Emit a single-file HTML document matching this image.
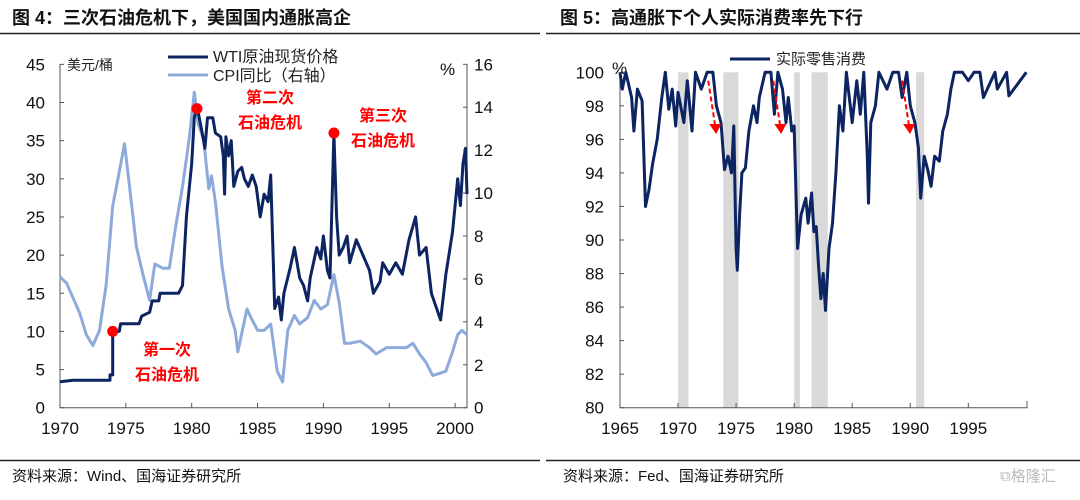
<!DOCTYPE html>
<html><head><meta charset="utf-8">
<style>
body{margin:0;background:#fff;width:1080px;height:495px;overflow:hidden;font-family:"Liberation Sans","Noto Sans CJK SC",sans-serif}
svg text{font-family:"Liberation Sans","Noto Sans CJK SC",sans-serif}
</style></head><body>
<svg id="s" width="1080" height="495" xmlns="http://www.w3.org/2000/svg">
<text x="12" y="24" font-size="18" font-weight="bold" fill="#111">图 4：三次石油危机下，美国国内通胀高企</text>
<text x="560" y="24" font-size="18" font-weight="bold" fill="#111">图 5：高通胀下个人实际消费率先下行</text>
<line x1="0" y1="33.5" x2="540" y2="33.5" stroke="#222" stroke-width="1.5"/>
<line x1="546" y1="33.5" x2="1080" y2="33.5" stroke="#222" stroke-width="1.5"/>
<line x1="0" y1="460.5" x2="540" y2="460.5" stroke="#222" stroke-width="1.5"/>
<line x1="546" y1="460.5" x2="1080" y2="460.5" stroke="#222" stroke-width="1.5"/>
<text x="12" y="481" font-size="15" fill="#111">资料来源：Wind、国海证券研究所</text>
<text x="563" y="481" font-size="15" fill="#111">资料来源：Fed、国海证券研究所</text>
<text x="1000" y="481" font-size="15" fill="#bbb">⧉格隆汇</text>
<g id="L"></g><g id="R"></g>
</svg>
<script>
// ---- Left chart data ----
const wtiYears=[1970,1971,1973.8,1973.8,1974.0,1974.0,1974.5,1974.6,1976,1976.2,1976.8,1977,1977.5,1977.6,1979,1979.3,1979.6,1980,1980.2,1980.4,1980.8,1981,1981.2,1981.6,1981.8,1982.2,1982.4,1982.5,1982.6,1982.8,1983,1983.2,1983.5,1983.8,1984,1984.3,1984.6,1984.9,1985.2,1985.5,1985.8,1986,1986.3,1986.6,1986.8,1987.0,1987.5,1987.8,1988.2,1988.5,1988.8,1989,1989.5,1989.8,1990,1990.3,1990.5,1990.8,1991,1991.2,1991.5,1991.8,1992,1992.5,1993,1993.5,1993.8,1994.3,1994.5,1995,1995.5,1996,1996.5,1997,1997.3,1997.8,1998.2,1998.5,1998.9,1999.3,1999.8,2000.2,2000.4,2000.6,2000.8,2000.9];
const wtiValues=[3.4,3.6,3.6,4.3,4.3,10,10,11,11,12,12.5,14,14,15,15,16,25,32,38,39.5,36,34,38,38,36,35.5,33,28,35.5,33,35,29,31,31.5,30,29,30.5,29,25,28,27,30.5,13,14.5,11.5,15,18.5,21,17,16,14,17,21,19.5,22.5,18,17,36,25,20,21,22.5,19,22,20,18,15,16.5,19,17.5,19,17.5,22,25,20,21,15,13.5,11.5,17.5,23,30,26.5,32,34,28];
const cpiYears=[1970,1970.5,1971,1971.5,1972,1972.5,1973,1973.5,1974,1974.5,1974.9,1975.3,1975.8,1976.3,1976.8,1977.2,1977.8,1978.3,1978.8,1979.3,1979.8,1980.2,1980.5,1980.9,1981.3,1981.5,1981.8,1982.3,1982.8,1983.3,1983.5,1984.2,1984.5,1985,1985.5,1986,1986.5,1986.9,1987.3,1987.8,1988.2,1988.8,1989.3,1989.8,1990.3,1990.8,1991.2,1991.6,1992,1992.8,1993.5,1994,1994.8,1995.5,1996.3,1996.8,1997.3,1997.8,1998.3,1998.8,1999.3,1999.8,2000.2,2000.5,2000.9];
const cpiValues=[6.1,5.8,5.1,4.4,3.4,2.9,3.6,5.7,9.4,11,12.3,10.2,7.5,6.2,5.0,6.7,6.5,6.5,8.5,10.3,12.5,14.7,13.2,12.5,10.2,10.8,9.6,6.6,4.6,3.6,2.6,4.6,4.2,3.6,3.6,3.9,1.7,1.2,3.6,4.3,3.9,4.2,5.0,4.6,4.8,6.2,4.9,3.0,3.0,3.1,2.8,2.5,2.8,2.8,2.8,3.0,2.5,2.1,1.5,1.6,1.7,2.6,3.4,3.6,3.4];
const leftTicks=[0,5,10,15,20,25,30,35,40,45];
const rightTicks=[0,2,4,6,8,10,12,14,16];
const xTicksL=[1970,1975,1980,1985,1990,1995,2000];
const crisisYears=[1974,1980.4,1990.8];
const crisisValues=[10,39.2,36];
const crisisLabels=[["第一次","石油危机"],["第二次","石油危机"],["第三次","石油危机"]];
// ---- Right chart data ----
const retailYears=[1965,1965.2,1965.5,1966.0,1966.2,1966.5,1966.9,1967.2,1967.5,1967.8,1968.2,1968.6,1968.9,1969.2,1969.5,1969.8,1970.0,1970.5,1970.8,1971.0,1971.2,1971.5,1972,1972.5,1973,1973.3,1973.7,1974.0,1974.3,1974.6,1974.8,1975.0,1975.1,1975.3,1975.5,1975.8,1976.1,1976.5,1976.8,1977.0,1977.5,1978.0,1978.3,1978.6,1979.0,1979.3,1979.5,1979.8,1980.0,1980.3,1980.6,1980.8,1981.0,1981.2,1981.5,1981.7,1981.9,1982.1,1982.3,1982.5,1982.7,1983.0,1983.3,1983.6,1983.9,1984.2,1984.5,1985.0,1985.4,1985.7,1986.0,1986.3,1986.4,1986.6,1987.0,1987.3,1988.0,1988.5,1989.0,1989.3,1989.7,1990.0,1990.4,1990.7,1990.9,1991.2,1991.5,1991.8,1992.1,1992.5,1992.8,1993.2,1993.5,1993.8,1994.5,1995,1995.5,1996,1996.3,1997.3,1997.5,1998.3,1998.5,2000];
const retailValues=[100,99,100,98.5,96.5,99,98.3,92,93,94.5,96,98.5,100,97.8,99,96.8,98.8,97,99.5,98,96.5,100,99,100,100,98,97,94.2,95,94,96.8,89.5,88.2,91.5,94,94.3,96.5,98,97,98.5,100,100,97.5,100,99,97,98.5,96.5,96.8,89.5,91.5,92,92.5,91,92.8,90.5,90.8,88.5,86.5,88,85.8,89.5,91,94,98,96.5,100,97,99.5,97.5,100,95,92.2,97,98,100,99,100,100,98.5,100,98,97,95.5,92.5,95,94.2,93.2,95,94.7,96.5,97.5,99,100,100,99.5,100,100,98.5,100,99,100,98.6,100];
const recessionStart=[1970.0,1973.9,1980.0,1981.5,1990.5];
const recessionEnd=[1970.9,1975.2,1980.5,1982.9,1991.2];
const arrowYears=[1972.6,1978.2,1989.3];
const yTicksR=[80,82,84,86,88,90,92,94,96,98,100];
const xTicksR=[1965,1970,1975,1980,1985,1990,1995];

const NS="http://www.w3.org/2000/svg";
function mk(parent,tag,attrs,txt){const e=document.createElementNS(NS,tag);for(const k in attrs)e.setAttribute(k,attrs[k]);if(txt!==undefined)e.textContent=txt;parent.appendChild(e);return e;}
const L=document.getElementById('L'),R=document.getElementById('R');
// Left axes
const xL=y=>60+(y-1970)*13.17;
const yL=v=>407.7-v*7.63;
const yL2=v=>407.7-v*(343.4/16);
let e;
e=mk(L,'path',{d:`M${xL(1970)},64 V407.7 H467 V64`,fill:'none',stroke:'#555','stroke-width':1});


leftTicks.forEach(v=>{
 e=mk(L,'line',{x1:60,x2:64,y1:yL(v),y2:yL(v),stroke:'#555'});
 
 
 e=mk(L,'text',{x:45,y:yL(v)+6,'font-size':17,'text-anchor':'end',fill:'#111'},v);
 
 
});
rightTicks.forEach(v=>{
 e=mk(L,'line',{x1:463,x2:467,y1:yL2(v),y2:yL2(v),stroke:'#555'});
 
 
 e=mk(L,'text',{x:474,y:yL2(v)+6,'font-size':17,fill:'#111'},v);
 
 
});
xTicksL.forEach(v=>{
 e=mk(L,'line',{x1:xL(v),x2:xL(v),y1:407.7,y2:403,stroke:'#555'});
 
 
 e=mk(L,'text',{x:xL(v),y:434,'font-size':17,'text-anchor':'middle',fill:'#111'},v);
 
 
});
e=mk(L,'text',{x:67,y:70,'font-size':14,fill:'#222'},'美元/桶');


e=mk(L,'text',{x:440,y:75,'font-size':17,fill:'#111'},'%');


const line=(xs,ys,fx,fy)=>xs.map((x,i)=>(i?'L':'M')+fx(x).toFixed(1)+','+fy(ys[i]).toFixed(1)).join('');
e=mk(L,'path',{d:line(cpiYears,cpiValues,xL,yL2),fill:'none',stroke:'#8eaadb','stroke-width':3,'stroke-linejoin':'round'});


e=mk(L,'path',{d:line(wtiYears,wtiValues,xL,yL),fill:'none',stroke:'#0c2461','stroke-width':3,'stroke-linejoin':'round'});


const labOff=[[35,-5],[30,10],[30,-5]];
crisisYears.forEach((y,i)=>{
 e=mk(L,'circle',{cx:xL(y),cy:yL(crisisValues[i]),r:5.5,fill:'#ff0000'});
 
 
});
[[167,355,380],[270,103,128],[383,121,146]].forEach((p,i)=>{
 e=mk(L,'text',{x:p[0],y:p[1],'font-size':16,'font-weight':'bold','text-anchor':'middle',fill:'#ff0000'},crisisLabels[i][0]);
 
 
 e=mk(L,'text',{x:p[0],y:p[2],'font-size':16,'font-weight':'bold','text-anchor':'middle',fill:'#ff0000'},crisisLabels[i][1]);
 
 
});
e=mk(L,'line',{x1:168,x2:208,y1:57,y2:57,stroke:'#0c2461','stroke-width':3});


e=mk(L,'text',{x:213,y:62,'font-size':16,fill:'#222'},'WTI原油现货价格');


e=mk(L,'line',{x1:168,x2:208,y1:75,y2:75,stroke:'#8eaadb','stroke-width':3});


e=mk(L,'text',{x:213,y:81,'font-size':16,fill:'#222'},'CPI同比（右轴）');



// Right chart
const xR=y=>620+(y-1965)*11.61;
const yR=v=>407.7-(v-80)*16.77;
recessionStart.forEach((s,i)=>{
 e=mk(R,'rect',{x:xR(s),y:yR(100),width:xR(recessionEnd[i])-xR(s),height:yR(80)-yR(100),fill:'#d9d9d9'});
 
 
});
e=mk(R,'path',{d:`M620,72 V407.7 H1027 V401`,fill:'none',stroke:'#555','stroke-width':1});


yTicksR.forEach(v=>{
 e=mk(R,'line',{x1:620,x2:624,y1:yR(v),y2:yR(v),stroke:'#555'});
 
 
 e=mk(R,'text',{x:604,y:yR(v)+6,'font-size':17,'text-anchor':'end',fill:'#111'},v);
 
 
});
xTicksR.forEach(v=>{
 e=mk(R,'line',{x1:xR(v),x2:xR(v),y1:407.7,y2:403,stroke:'#555'});
 
 
 e=mk(R,'text',{x:xR(v),y:434,'font-size':17,'text-anchor':'middle',fill:'#111'},v);
 
 
});
e=mk(R,'text',{x:612,y:74,'font-size':17,fill:'#111'},'%');


e=mk(R,'path',{d:line(retailYears,retailValues,xR,yR),fill:'none',stroke:'#0c2461','stroke-width':3,'stroke-linejoin':'round'});


arrowYears.forEach(y=>{
 const x1=xR(y),y1=yR(99.5),x2=xR(y+0.6),y2=yR(96.8);
 e=mk(R,'line',{x1:x1,y1:y1,x2:x2,y2:y2,stroke:'#ff0000','stroke-width':2,'stroke-dasharray':'5,3'});
 
 
 e=mk(R,'path',{d:`M${x2-6},${y2-2} L${x2+6},${y2-2} L${x2+1},${y2+8} Z`,fill:'#ff0000'});
 
 
});
e=mk(R,'line',{x1:730,x2:770,y1:59,y2:59,stroke:'#0c2461','stroke-width':3});


e=mk(R,'text',{x:776,y:64,'font-size':15,fill:'#222'},'实际零售消费');


</script>
</body></html>
